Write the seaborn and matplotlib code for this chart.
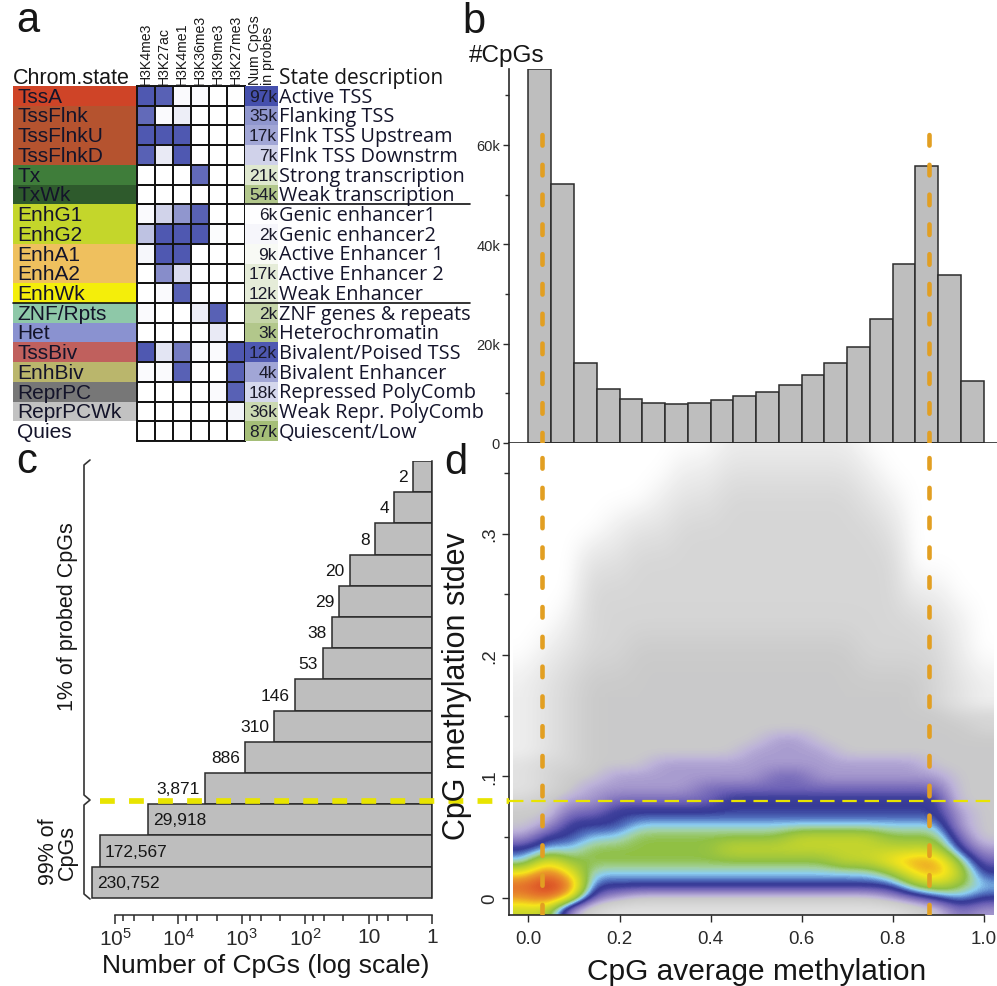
import numpy as np
import pandas as pd
import matplotlib
matplotlib.use("Agg")
import matplotlib.pyplot as plt
import seaborn as sns
from matplotlib.colors import LinearSegmentedColormap, ListedColormap, Normalize
from matplotlib.ticker import FixedLocator, NullFormatter

sns.set_theme(style="ticks")
plt.rcParams["font.family"] = ["Liberation Sans", "DejaVu Sans"]
plt.rcParams["mathtext.fontset"] = "custom"
plt.rcParams["mathtext.rm"] = "Liberation Sans"
plt.rcParams["mathtext.it"] = "Liberation Sans:italic"
plt.rcParams["mathtext.bf"] = "Liberation Sans:bold"
plt.rcParams["axes.edgecolor"] = "#2a2a2a"
plt.rcParams["xtick.color"] = "#2a2a2a"
plt.rcParams["ytick.color"] = "#2a2a2a"
plt.rcParams["text.color"] = "#161616"
DESC_FONT = ["Open Sans", "DejaVu Sans"]

# ---------------- a: chromatin states ----------------
states = ["TssA", "TssFlnk", "TssFlnkU", "TssFlnkD", "Tx", "TxWk", "EnhG1", "EnhG2",
          "EnhA1", "EnhA2", "EnhWk", "ZNF/Rpts", "Het", "TssBiv", "EnhBiv", "ReprPC",
          "ReprPCWk", "Quies"]
state_colors = ["#cf4427", "#b5532f", "#b5532f", "#b5532f", "#3f7d3a", "#2e5a2c",
                "#c4d62b", "#c4d62b", "#efc05e", "#efc05e", "#f4ee0a", "#8ec8a8",
                "#8a92d0", "#c0605d", "#bab66c", "#777777", "#c2c2c2", "#ffffff"]
descriptions = ["Active TSS", "Flanking TSS", "Flnk TSS Upstream", "Flnk TSS Downstrm",
                "Strong transcription", "Weak transcription", "Genic enhancer1",
                "Genic enhancer2", "Active Enhancer 1", "Active Enhancer 2",
                "Weak Enhancer", "ZNF genes & repeats", "Heterochromatin",
                "Bivalent/Poised TSS", "Bivalent Enhancer", "Repressed PolyComb",
                "Weak Repr. PolyComb", "Quiescent/Low"]
marks = ["H3K4me3", "H3K27ac", "H3K4me1", "H3K36me3", "H3K9me3", "H3K27me3"]
mark_signal = [
    [0.95, 0.90, 0.03, 0.03, 0.00, 0.01],
    [0.85, 0.03, 0.10, 0.00, 0.00, 0.00],
    [0.95, 0.95, 0.95, 0.00, 0.00, 0.00],
    [0.90, 0.12, 0.95, 0.00, 0.00, 0.00],
    [0.00, 0.00, 0.00, 0.85, 0.00, 0.00],
    [0.00, 0.00, 0.00, 0.00, 0.00, 0.00],
    [0.03, 0.25, 0.60, 0.90, 0.00, 0.00],
    [0.35, 0.95, 0.95, 0.95, 0.02, 0.00],
    [0.05, 0.95, 0.95, 0.00, 0.00, 0.00],
    [0.00, 0.65, 0.20, 0.00, 0.00, 0.00],
    [0.00, 0.03, 0.90, 0.00, 0.00, 0.00],
    [0.03, 0.00, 0.00, 0.10, 0.90, 0.00],
    [0.00, 0.00, 0.00, 0.00, 0.12, 0.00],
    [0.95, 0.15, 0.75, 0.02, 0.03, 0.95],
    [0.03, 0.03, 0.90, 0.00, 0.00, 0.90],
    [0.00, 0.00, 0.00, 0.00, 0.03, 0.90],
    [0.00, 0.00, 0.00, 0.00, 0.00, 0.06],
    [0.00, 0.00, 0.00, 0.00, 0.00, 0.00],
]
cpg_counts = ["97k", "35k", "17k", "7k", "21k", "54k", "6k", "2k", "9k", "17k", "12k",
              "2k", "3k", "12k", "4k", "18k", "36k", "87k"]
cpg_enrichment = [1.0, 0.6, 0.5, 0.25, -0.25, -0.6, 0.0, 0.05, -0.05, -0.2, -0.2,
                  -0.45, -0.6, 0.95, 0.5, 0.22, -0.4, -0.7]

# ---------------- b: histogram of average methylation ----------------
bin_edges = [0.0, 0.05, 0.1, 0.15, 0.2, 0.25, 0.3, 0.35, 0.4, 0.45, 0.5,
             0.55, 0.6, 0.65, 0.7, 0.75, 0.8, 0.85, 0.9, 0.95, 1.0]
cpg_per_bin = [75200, 52200, 16100, 10900, 8900, 8000, 7800, 8000, 8600, 9400,
               10200, 11700, 13600, 16100, 19400, 25000, 36100, 55800, 33800, 12500]
meth_modes = [0.03, 0.88]
stdev_cutoff = 0.08

# ---------------- c: CpGs per variability rank ----------------
rank_counts = [2, 4, 8, 20, 29, 38, 53, 146, 310, 886, 3871, 29918, 172567, 230752]

# ---------------- d: density of mean vs stdev (level per cell) ----------------
# 21 columns over x = -0.035 .. 1.02; levels: 0 white .. E red
density_low = [          # y = 0.165 (top) .. -0.015 (bottom), 0.01 per row
    "123444444444444444321",
    "123444444444444444433",
    "123444444444444444443",
    "123444444445544444444",
    "123444444455554444444",
    "233444555555555555444",
    "234455555556655555544",
    "234555556666666666644",
    "345566666777777777744",
    "446677777777777777754",
    "457778888888888888854",
    "577889999999AAAA99964",
    "788999999AAAAAAAAAA75",
    "8B999999999999AABCC96",
    "BDB88888888888889BCA7",
    "DED777777777777779A98",
    "CDB654444444444456787",
    "AA5322222222222223465",
]
density_high = [         # y = 0.39 (top) .. 0.165 (bottom), 0.025 per row
    "000000000111111000000",
    "000000011222222100000",
    "000000122333333210000",
    "000012233333333320000",
    "000223333333333330000",
    "000333333333333331100",
    "001333333333333333210",
    "012334444444444333310",
    "123444444444444444321",
]
density_palette = [(0.0, "#ffffff"), (1.0, "#eeeeee"), (2.0, "#e2e2e2"), (3.0, "#d6d6d6"),
                   (4.0, "#cacaca"), (4.6, "#bcb2d9"), (5.4, "#9587c6"), (6.2, "#6a5fb5"),
                   (6.7, "#3f409c"), (7.0, "#373b97"), (7.5, "#5577c3"), (8.0, "#8ccdf1"),
                   (8.5, "#a2d19e"), (9.0, "#90c044"), (10.0, "#c4d52d"),
                   (11.0, "#f6e51b"), (12.0, "#eb9a2a"), (13.0, "#e2652a"),
                   (14.0, "#cc3320")]
density_top = 14

ORANGE = "#e29f22"
YELLOW = "#e8e400"
EDGE = "#2b2b2b"

W, H = 997, 987
fig = plt.figure(figsize=(W / 100, H / 100), dpi=100)


def px_axes(x0, y0, x1, y1, **kw):
    return fig.add_axes([x0 / W, 1 - y1 / H, (x1 - x0) / W, (y1 - y0) / H], **kw)


ov = fig.add_axes([0, 0, 1, 1], zorder=20)
ov.set_xlim(0, W)
ov.set_ylim(H, 0)
ov.axis("off")

# ---------- panel a ----------
row_top, row_bot = 87, 442
n_rows = len(states)
row_h = (row_bot - row_top) / n_rows

ax_state = px_axes(13, row_top, 137, row_bot)
sns.heatmap(pd.DataFrame(np.arange(n_rows).reshape(-1, 1), index=states),
            ax=ax_state, cmap=ListedColormap(state_colors), vmin=-0.5,
            vmax=n_rows - 0.5, cbar=False, xticklabels=False, yticklabels=False)
for i, s in enumerate(states):
    ax_state.text(0.035, i + 0.52, s, ha="left", va="center", fontsize=15,
                  color="#14142a")

mark_cmap = LinearSegmentedColormap.from_list("marks", ["#ffffff", "#4650ad"])
ax_marks = px_axes(137, row_top, 245, row_bot)
sns.heatmap(pd.DataFrame(mark_signal, index=states, columns=marks), ax=ax_marks,
            cmap=mark_cmap, vmin=0, vmax=1, cbar=False, linewidths=1.1,
            linecolor="#141414", xticklabels=False, yticklabels=False)
for sp in ax_marks.spines.values():
    sp.set_visible(True)
    sp.set_linewidth(1.4)
    sp.set_color("#141414")
for j, m in enumerate(marks):
    ax_marks.text(j + 0.5, -0.12, m, rotation=90, ha="center", va="bottom",
                  fontsize=10.2, color="#1a1a1a")

num_cmap = LinearSegmentedColormap.from_list("cpg", ["#7fa23e", "#ffffff", "#4550ad"])
ax_num = px_axes(245, row_top, 278, row_bot)
sns.heatmap(pd.DataFrame(np.array(cpg_enrichment).reshape(-1, 1), index=states),
            ax=ax_num, cmap=num_cmap, vmin=-1, vmax=1, cbar=False,
            xticklabels=False, yticklabels=False)
for i, lab in enumerate(cpg_counts):
    ax_num.text(0.97, i + 0.52, lab, ha="right", va="center", fontsize=12.5,
                color="#1a1a2a")
ax_num.text(0.5, -0.12, "Num CpGs\nin probes", rotation=90, ha="center", va="bottom",
            fontsize=10.2, linespacing=0.9, multialignment="left", color="#1a1a1a")

ov.text(13, 84, "Chrom.state", ha="left", va="baseline", fontsize=15.5)
ov.text(279, 84, "State description", ha="left", va="baseline", fontsize=15,
        family=DESC_FONT)
for i, d in enumerate(descriptions):
    ov.text(279, row_top + (i + 0.54) * row_h, d, ha="left", va="center",
            fontsize=14.3, family=DESC_FONT, color="#14142a")
ov.plot([137, 470], [row_top + 6 * row_h] * 2, color="#111111", lw=1.2)
ov.plot([13, 470], [row_top + 11 * row_h] * 2, color="#111111", lw=1.2)

# ---------- panel b ----------
ax_b = px_axes(509, 70, 997, 444)
bin_centres = [(a + b) / 2 for a, b in zip(bin_edges[:-1], bin_edges[1:])]
sns.histplot(x=bin_centres, weights=cpg_per_bin, bins=bin_edges, ax=ax_b,
             color="#bebebe", edgecolor=EDGE, linewidth=1.1, alpha=1)
ax_b.set_xlim(-0.0428, 1.029)
ax_b.set_ylim(0, 75300)
sns.despine(ax=ax_b)
ax_b.set_xticks([])
ax_b.set_xlabel("")
ax_b.set_ylabel("")
ax_b.set_yticks([0, 20000, 40000, 60000])
ax_b.set_yticklabels(["0", "20k", "40k", "60k"])
ax_b.yaxis.set_minor_locator(FixedLocator([10000, 30000, 50000, 70000]))
ax_b.tick_params(axis="y", which="major", length=4.5, width=1, labelsize=10.5, pad=2)
ax_b.tick_params(axis="y", which="minor", length=3, width=1)
for sp in ax_b.spines.values():
    sp.set_linewidth(1.2)
for xm in meth_modes:
    ax_b.plot([xm, xm], [0, 64700], color=ORANGE, lw=3.3, dashes=(2.3, 4.2),
              dash_capstyle="round", zorder=5)
ov.text(469, 62, "#CpGs", ha="left", va="baseline", fontsize=17.5)

# ---------- panel d ----------
ax_d = px_axes(509, 444, 997, 916)
ax_d.set_zorder(5)
dens_cmap = LinearSegmentedColormap.from_list(
    "meth_density", [(v / density_top, c) for v, c in density_palette])
dens_cmap.set_under("#ffffff")
dens_cmap.set_over("#cc3320")
norm = Normalize(0, density_top)
high = np.array([[int(ch, 16) for ch in row] for row in density_high], float)
low = np.array([[int(ch, 16) for ch in row] for row in density_low], float)
ax_d.imshow(high, extent=(-0.035, 1.02, 0.165, 0.39), origin="upper",
            cmap=dens_cmap, norm=norm, interpolation="bicubic",
            interpolation_stage="data", aspect="auto", zorder=0)
ax_d.imshow(low, extent=(-0.035, 1.02, -0.015, 0.165), origin="upper",
            cmap=dens_cmap, norm=norm, interpolation="bicubic",
            interpolation_stage="data", aspect="auto", zorder=0)
ax_d.set_xlim(-0.0428, 1.029)
ax_d.set_ylim(-0.014, 0.3745)
ax_d.axhline(stdev_cutoff, color=YELLOW, lw=1.6, dashes=(6.5, 3.5), zorder=3)
ax_d.plot([-0.94, -0.0428], [stdev_cutoff] * 2, color=YELLOW, lw=4.1,
          dashes=(2.6, 2.5), clip_on=False, zorder=3)
for xm in meth_modes:
    ax_d.axvline(xm, color=ORANGE, lw=3.3, dashes=(2.3, 4.2),
                 dash_capstyle="round", zorder=4)
sns.despine(ax=ax_d)
for sp in ax_d.spines.values():
    sp.set_linewidth(1.2)
ax_d.spines["bottom"].set_bounds(-0.0428, 1.0)
ax_d.set_xticks([0, 0.2, 0.4, 0.6, 0.8, 1.0])
ax_d.set_xticklabels(["0.0", "0.2", "0.4", "0.6", "0.8", "1.0"])
ax_d.set_yticks([0, 0.1, 0.2, 0.3])
ax_d.set_yticklabels(["0", ".1", ".2", ".3"], rotation=90, va="center")
ax_d.yaxis.set_minor_locator(FixedLocator([0.05, 0.15, 0.25, 0.35]))
ax_d.tick_params(axis="x", which="major", length=5, width=1, labelsize=13.5, pad=6)
ax_d.tick_params(axis="y", which="major", length=5, width=1, labelsize=13.5, pad=3)
ax_d.tick_params(axis="y", which="minor", length=3.5, width=1)
ax_d.grid(False)
ov.text(757, 980, "CpG average methylation", ha="center", va="baseline", fontsize=21.5)
ov.text(457, 686, "CpG methylation stdev", ha="center", va="center", rotation=90,
        fontsize=22)

# ---------- panel c ----------
ax_c = px_axes(85, 462, 432, 916)
rank_labels = [f"{v:,}" for v in rank_counts]
sns.barplot(x=rank_counts, y=rank_labels, orient="y", ax=ax_c, color="#bebebe",
            edgecolor=EDGE, linewidth=1.1, width=1, saturation=1, errorbar=None,
            log_scale=True)
# bars start at one CpG (the right edge of the log axis)
for p in ax_c.patches:
    w = p.get_x() + p.get_width()
    p.set_x(1)
    p.set_width(w - 1)
ax_c.set_xlim(10 ** 5.473, 1)
ax_c.set_ylim(14.05, -0.5)
ax_c.set_ylabel("")
ax_c.set_xlabel("")
ax_c.set_yticks([])
for side in ["top", "left"]:
    ax_c.spines[side].set_visible(False)
ax_c.spines["bottom"].set_bounds(1, 1e5)
ax_c.spines["right"].set_bounds(-0.5, 13.5)
for sp in ax_c.spines.values():
    sp.set_linewidth(1.1)
ax_c.set_xticks([1e5, 1e4, 1e3, 1e2, 10, 1])
ax_c.set_xticklabels([r"$10^5$", r"$10^4$", r"$10^3$", r"$10^2$", "10", "1"])
ax_c.xaxis.set_minor_locator(FixedLocator(
    [m * 10 ** k for k in range(5) for m in (7.5, 5, 2.5)]))
ax_c.xaxis.set_minor_formatter(NullFormatter())
ax_c.tick_params(axis="x", which="major", length=6.5, width=1.1, labelsize=15, pad=2)
ax_c.tick_params(axis="x", which="minor", length=4.5, width=1.1)
ax_c.grid(False)
for i, v in enumerate(rank_counts):
    lab = f"{v:,}"
    if v < 10000:
        ax_c.text(v * 1.2, i, lab, ha="right", va="center", fontsize=12.5)
    else:
        ax_c.text(v / 1.2, i, lab, ha="left", va="center", fontsize=12.5)
ov.text(266, 966, "Number of CpGs (log scale)", ha="center", va="center", fontsize=19)

brace_x = [90, 84, 84, 90, 84, 84, 90]
brace_y = [461, 466, 796, 801, 806, 895, 900]
ov.plot(brace_x, brace_y, color="#333333", lw=1.2)
ov.text(67, 617, "1% of probed CpGs", rotation=90, ha="center", va="center",
        fontsize=15.5)
ov.text(58, 852, "99% of\nCpGs", rotation=90, ha="center", va="center",
        fontsize=15.5, linespacing=0.85)

# panel letters
for lx, ly, letter in [(16, 32, "a"), (462, 33, "b"), (16, 473, "c"), (444, 474, "d")]:
    ov.text(lx, ly, letter, ha="left", va="baseline", fontsize=30)

fig.savefig("out.png", dpi=100)
